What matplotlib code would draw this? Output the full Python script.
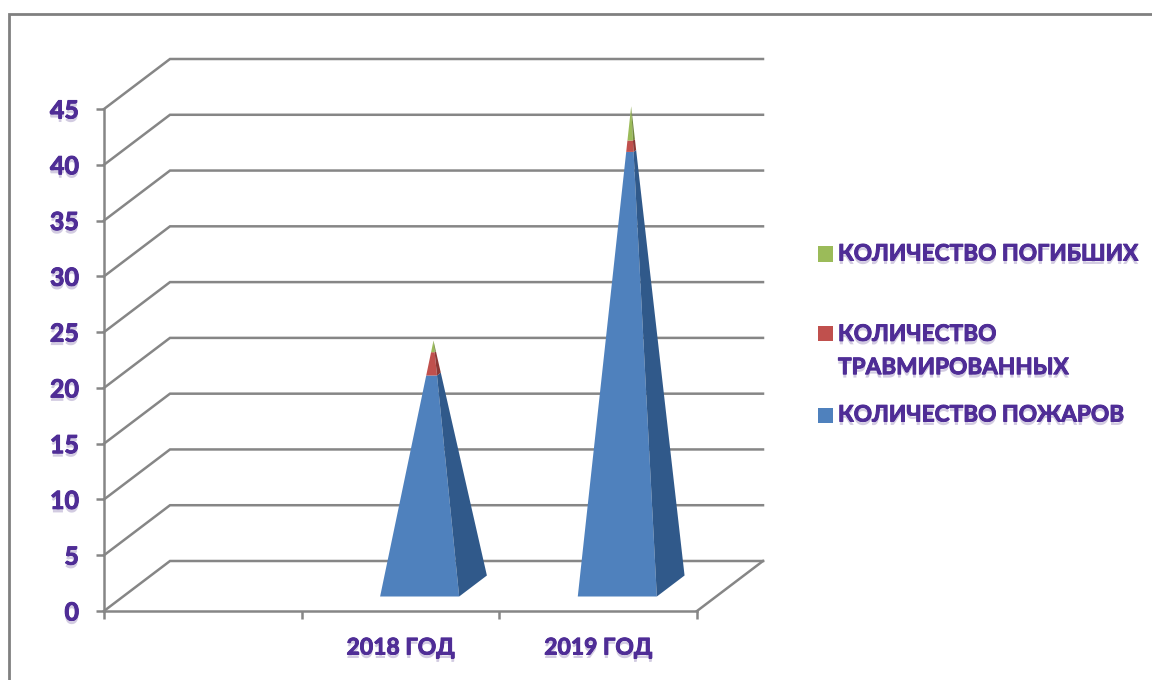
import matplotlib
matplotlib.use("Agg")
import matplotlib.patheffects as pe
import matplotlib.pyplot as plt
from matplotlib.patches import Polygon, Rectangle

W, H = 1152, 680

categories = ["", "2018 ГОД", "2019 ГОД"]
fires = [0, 19, 39]
injured = [0, 2, 1]
deaths = [0, 1, 3]
y_ticks = [0, 5, 10, 15, 20, 25, 30, 35, 40, 45]
legend_rows = [
    ("КОЛИЧЕСТВО ПОГИБШИХ", "#9bbb59", 254),
    ("КОЛИЧЕСТВО\nТРАВМИРОВАННЫХ", "#c0504d", 351),
    ("КОЛИЧЕСТВО ПОЖАРОВ", "#4f81bd", 415),
]

GRID = "#868686"
TEXT = "#4f2d96"
FONT = ["Lato", "Noto Sans", "DejaVu Sans"]

# depth of the fake 3D floor, in pixels
DEPTH_X, DEPTH_Y = 66, 50
LEFT, RIGHT, TOP, BOTTOM = 104, 697, 109, 611

shadow = [
    pe.withSimplePatchShadow(offset=(0, -2.5), shadow_rgbFace="#8f7fb5", alpha=0.4),
    pe.withStroke(linewidth=0.7, foreground=TEXT),
]

fig = plt.figure(figsize=(W / 100, H / 100), dpi=100, facecolor="white")
ax = fig.add_axes([LEFT / W, 1 - BOTTOM / H, (RIGHT - LEFT) / W, (BOTTOM - TOP) / H])
ax.set_xlim(0, len(categories))
ax.set_ylim(0, 45)
ax.patch.set_visible(False)

dx = DEPTH_X / (RIGHT - LEFT) * len(categories)
dy = DEPTH_Y / (BOTTOM - TOP) * 45


def project(x, v, d):
    return x + d * dx, v + d * dy


# gridlines run up the side wall, then along the back wall
for v in y_ticks:
    ax.plot([0, dx, len(categories) + dx], [v, v + dy, v + dy],
            color=GRID, lw=1.8, clip_on=False, zorder=1, solid_joinstyle="miter")
ax.plot([len(categories), len(categories) + dx], [0, dy],
        color=GRID, lw=1.8, clip_on=False, zorder=1)


def pyramid_slice(x, v0, v1, total, face, side):
    half_w, d0, d1 = 0.2, 0.29, 0.71
    mid = (d0 + d1) / 2

    def corner(sx, d, v):
        t = v / total
        cx = x + sx * half_w * (1 - t)
        dd = mid + (d - mid) * (1 - t)
        px, py = project(cx, 0, dd)
        return px, py + v

    ax.add_patch(Polygon([corner(-1, d0, v0), corner(1, d0, v0), corner(1, d0, v1), corner(-1, d0, v1)],
                         closed=True, fc=face, ec="none", zorder=3, clip_on=False))
    ax.add_patch(Polygon([corner(1, d0, v0), corner(1, d1, v0), corner(1, d1, v1), corner(1, d0, v1)],
                         closed=True, fc=side, ec="none", zorder=3, clip_on=False))


for i in range(len(categories)):
    total = fires[i] + injured[i] + deaths[i]
    if total == 0:
        continue
    x = i + 0.5
    pyramid_slice(x, 0, fires[i], total, "#4f81bd", "#30598a")
    pyramid_slice(x, fires[i], fires[i] + injured[i], total, "#c0504d", "#8c3836")
    pyramid_slice(x, fires[i] + injured[i], total, total, "#9bbb59", "#71893f")

for side in ["top", "right"]:
    ax.spines[side].set_visible(False)
for side in ["left", "bottom"]:
    ax.spines[side].set_color(GRID)
    ax.spines[side].set_linewidth(1.8)
    ax.spines[side].set_zorder(2)

ax.set_yticks(y_ticks)
ax.set_xticks(range(len(categories) + 1))
ax.set_xticklabels([])
ax.tick_params(axis="both", color=GRID, width=1.8, length=6, direction="out")
ax.set_yticklabels([str(v) for v in y_ticks], family=FONT, fontsize=18, fontweight="bold",
                   color=TEXT, path_effects=shadow)
ax.tick_params(axis="y", pad=12)

for i, label in enumerate(categories):
    if label:
        ax.annotate(label, (i + 0.5, 0), xytext=(0, -37), textcoords="offset pixels",
                    ha="center", va="center", family=FONT, fontsize=16.5, fontweight="bold",
                    color=TEXT, path_effects=shadow, annotation_clip=False)

# legend is placed by hand, the rows are not evenly spaced in the original
for label, color, y in legend_rows:
    top_row = y - 17.5 if "\n" in label else y
    fig.patches.append(Rectangle((818 / W, 1 - (top_row + 7.5) / H), 15 / W, 15 / H,
                                 transform=fig.transFigure, fc=color, ec="none"))
    fig.text(838 / W, 1 - y / H, label, ha="left", va="center", family=FONT, fontsize=16.3,
             fontweight="bold", color=TEXT, linespacing=1.72, path_effects=shadow)

# outer chart frame
fig.add_artist(plt.Line2D([9 / W, 9 / W, 1], [0, 1 - 14 / H, 1 - 14 / H],
                          transform=fig.transFigure, color="#808080", lw=2, solid_joinstyle="miter"))

fig.savefig("out.png", dpi=100)
